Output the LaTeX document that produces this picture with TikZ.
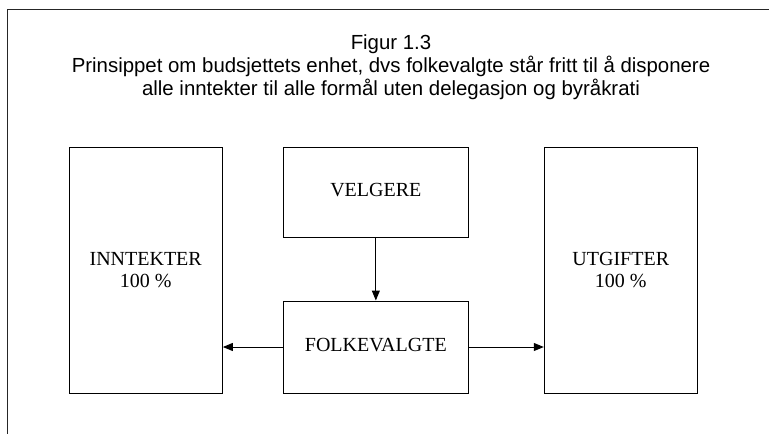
\documentclass[tikz,border=0pt]{standalone}
\usepackage{fontspec}
\setmainfont{Liberation Serif}
\newfontfamily\headfont{Liberation Sans}
\usetikzlibrary{arrows.meta}

\tikzset{
  boxtext/.style={font=\fontsize{20}{22}\selectfont, align=center},
  block/.style={draw=black, line width=1pt, inner sep=0pt, boxtext},
  oneline/.style={text depth=5pt},
  flow/.style={draw=black, line width=1pt, -{Triangle[length=10pt,width=8pt]}},
  headline/.style={font=\headfont\fontsize{20.4}{23}\selectfont, anchor=base, inner sep=0pt},
}

\begin{document}
\begin{tikzpicture}[x=1pt, y=-1pt]
  \useasboundingbox (0,0) rectangle (769,434);

  % outer frame, only its left and top sides fall inside the page
  \draw[line width=1pt, black!85] (7,440) -- (7,9) -- (775,9);

  % heading
  \node[headline] (fig)   at (391,49) {Figur 1.3};
  \node[headline] (head1) at (391,72) {Prinsippet om budsjettets enhet, dvs folkevalgte står fritt til å disponere};
  \node[headline] (head2) at (391,95) {alle inntekter til alle formål uten delegasjon og byråkrati};

  % blocks
  \node[block, minimum width=153.3pt, minimum height=245.3pt] (inn) at (145.7,270.35) {INNTEKTER\\100 \%};
  \node[block, oneline, minimum width=184.3pt, minimum height=89.3pt]  (vel) at (375.85,192.35) {VELGERE};
  \node[block, oneline, minimum width=184.3pt, minimum height=92pt]    (fol) at (375.85,347) {FOLKEVALGTE};
  \node[block, minimum width=153pt,   minimum height=245.3pt] (utg) at (620.8,270.35) {UTGIFTER\\100 \%};

  % connectors
  \draw[flow] (vel.south) -- (fol.north);
  \draw[flow] (fol.west) -- (inn.east |- fol.west);
  \draw[flow] (fol.east) -- (utg.west |- fol.east);
\end{tikzpicture}
\end{document}
